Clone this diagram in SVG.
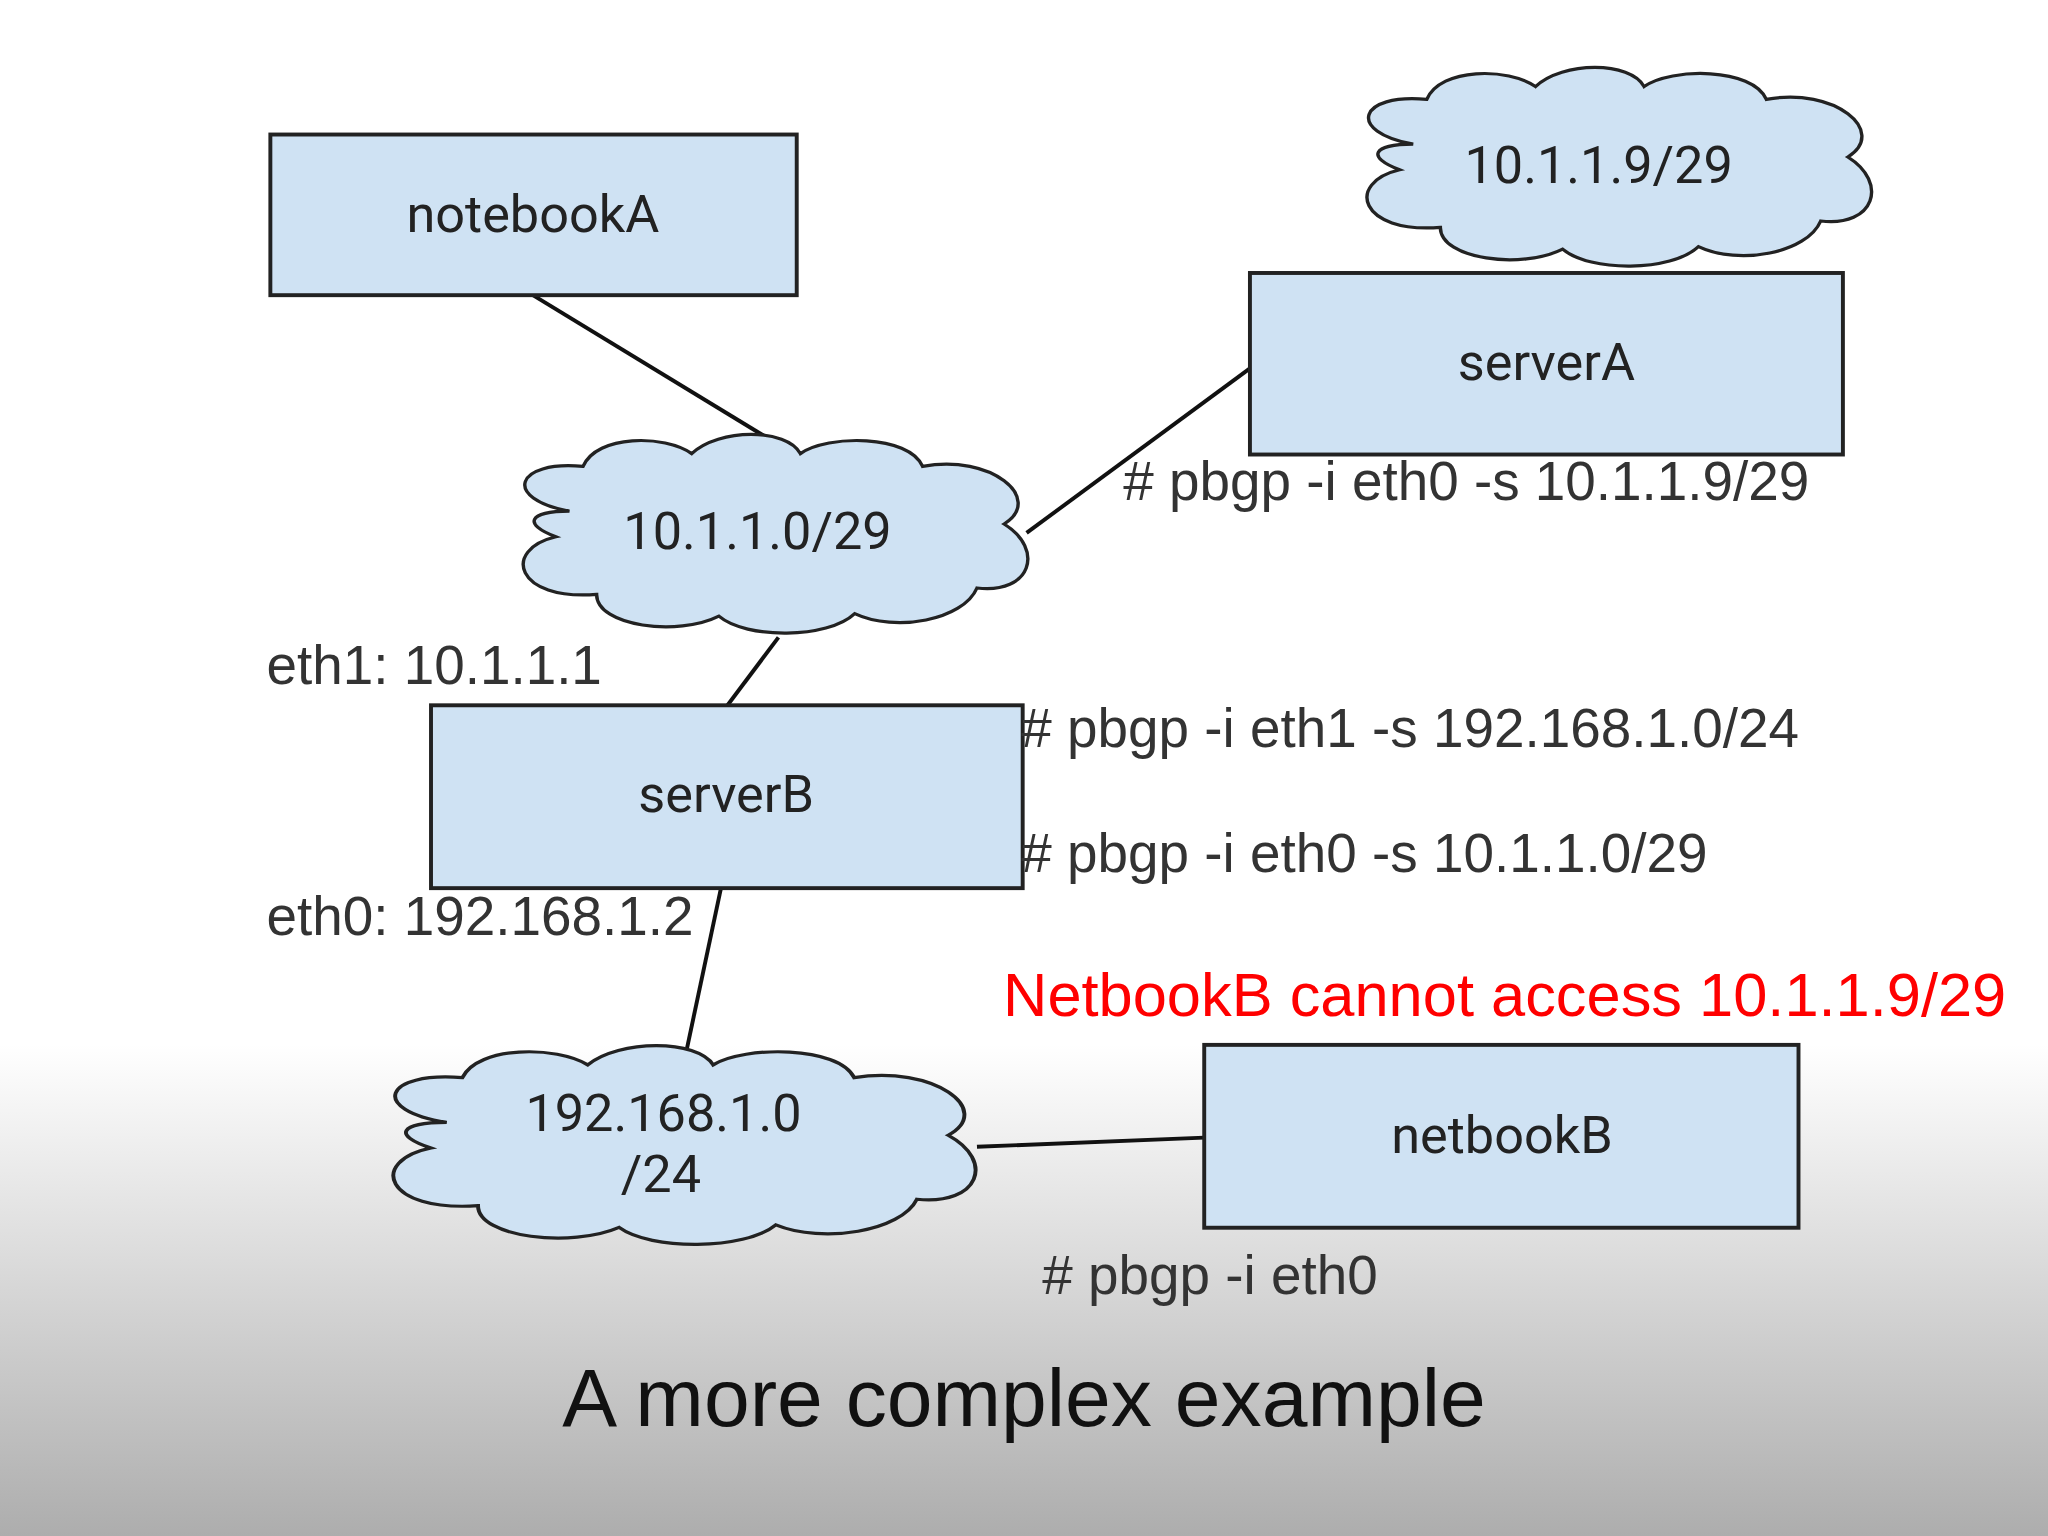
<svg xmlns="http://www.w3.org/2000/svg" width="2048" height="1536" viewBox="0 0 2048 1536">
<defs>
<linearGradient id="bg" x1="0" y1="0" x2="0" y2="1">
<stop offset="0" stop-color="#ffffff"/>
<stop offset="0.68" stop-color="#ffffff"/>
<stop offset="1" stop-color="#adadad"/>
</linearGradient>
<path id="cloud" d="M -150,-20 C -200,-30 -190,-60 -140,-55 C -130,-80 -80,-80 -60,-65 C -40,-85 10,-85 20,-65 C 40,-80 100,-80 110,-55 C 160,-65 200,-30 170,-10 C 200,10 190,45 150,40 C 140,65 90,75 60,60 C 40,80 -20,80 -40,62 C -70,78 -130,70 -130,45 C -190,50 -200,10 -160,0 C -185,-10 -180,-20 -150,-20 Z"/>
<style>
.box{fill:#cfe2f3;stroke:#222;stroke-width:3}
.cl{fill:#cfe2f3;stroke:#222;stroke-width:2.5}
.lbl{font-family:Roboto,"Liberation Sans",sans-serif;font-size:40px;fill:#222;text-anchor:middle}
.ann{font-family:"Liberation Sans",sans-serif;font-size:42px;fill:#333}
.ln{stroke:#111;stroke-width:3;fill:none}
</style>
</defs>
<rect width="2048" height="1536" fill="url(#bg)"/>
<g transform="scale(1.3061)">
<g id="connectors">
<line class="ln" x1="408" y1="226" x2="592" y2="338"/>
<line class="ln" x1="957" y1="282" x2="786" y2="408"/>
<line class="ln" x1="596" y1="488" x2="557" y2="540"/>
<line class="ln" x1="552" y1="680" x2="524" y2="812"/>
<line class="ln" x1="748" y1="878" x2="922" y2="871"/>
</g>
<g id="notebookA"><rect class="box" x="207" y="103" width="403" height="123"/><text class="lbl" x="408" y="178">notebookA</text></g>
<g id="serverA"><rect class="box" x="957" y="209" width="454" height="139"/><text class="lbl" x="1184" y="291">serverA</text></g>
<g id="serverB"><rect class="box" x="330" y="540" width="453" height="140"/><text class="lbl" x="556" y="622">serverB</text></g>
<g id="netbookB"><rect class="box" x="922" y="800" width="455" height="140"/><text class="lbl" x="1150" y="883">netbookB</text></g>
<g id="cloud1"><use href="#cloud" class="cl" transform="translate(592,411) scale(1.04,0.98)"/><text class="lbl" x="580" y="420">10.1.1.0/29</text></g>
<g id="cloud2"><use href="#cloud" class="cl" transform="translate(1238,130) scale(1.04,0.98)"/><text class="lbl" x="1224" y="140">10.1.1.9/29</text></g>
<g id="cloud3"><use href="#cloud" class="cl" transform="translate(522,879) scale(1.2,0.98)"/><text class="lbl" x="508" y="866">192.168.1.0</text><text class="lbl" x="506" y="913">/24</text></g>
<text class="ann" x="860" y="383">  # pbgp -i eth0 -s 10.1.1.9/29</text>
<text class="ann" x="204" y="524">eth1: 10.1.1.1</text>
<text class="ann" x="782" y="572"># pbgp -i eth1 -s 192.168.1.0/24</text>
<text class="ann" x="782" y="668"># pbgp -i eth0 -s 10.1.1.0/29</text>
<text class="ann" x="204" y="716">eth0: 192.168.1.2</text>
<text class="ann" x="768" y="778" style="fill:#ff0000;font-size:47px">NetbookB cannot access 10.1.1.9/29</text>
<text class="ann" x="798" y="991">  # pbgp -i eth0</text>
<text x="784" y="1092" style="font-family:'Liberation Sans',sans-serif;font-size:63px;fill:#111;text-anchor:middle">A more complex example</text>
</g>
</svg>
